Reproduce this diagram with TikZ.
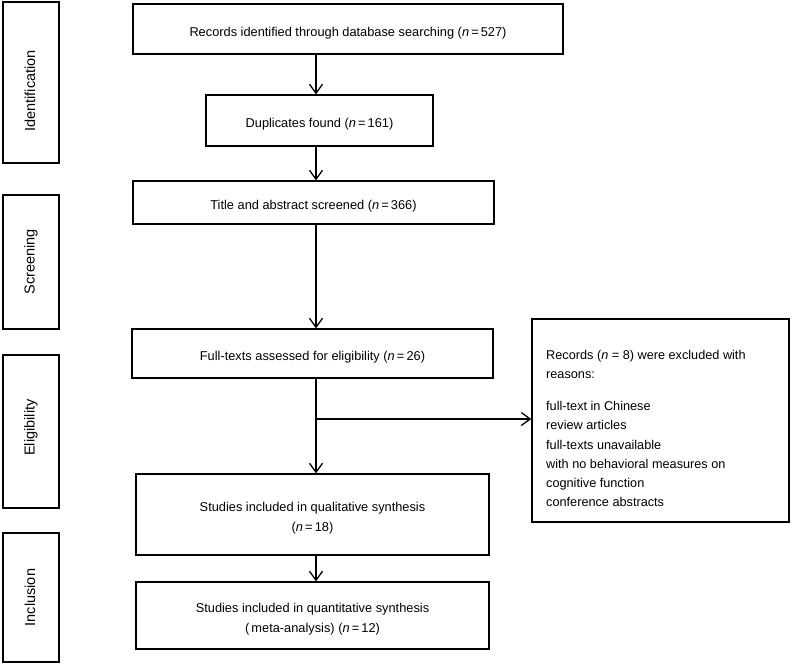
\documentclass[tikz,border=0pt]{standalone}
\usepackage{fontspec}
\setmainfont{Liberation Sans}
\usetikzlibrary{arrows.meta}
\newcommand{\lowr}[1]{\raisebox{-4pt}[\height][\depth]{#1}}
\begin{document}
\begin{tikzpicture}[x=1pt,y=-1pt,
  box/.style={draw, line width=1.3pt, rectangle, inner sep=0pt, align=center, font=\fontsize{12.8}{20}\selectfont},
  stage/.style={draw, line width=1.3pt, rectangle, inner sep=0pt, rotate=90, minimum height=56pt, font=\fontsize{14.5}{17}\selectfont},
  arr/.style={line width=1.3pt, -{Straight Barb[length=9pt,width=13pt]}},
  listtext/.style={anchor=west, align=left, inner sep=0pt, font=\fontsize{12.7}{19.3}\selectfont}]
\useasboundingbox (0,0) rectangle (792,665);
% stage labels
\node[stage, minimum width=161pt] (L1) at (31,82.5) {\raisebox{2.5pt}{Identification}\hspace*{17pt}};
\node[stage, minimum width=134pt] (L2) at (31,262) {\raisebox{2.5pt}{Screening}};
\node[stage, minimum width=153pt] (L3) at (31,431.5) {\raisebox{2.5pt}{Eligibility}\hspace*{-8pt}};
\node[stage, minimum width=129pt] (L4) at (31,597.5) {\raisebox{2.5pt}{Inclusion}};
% main boxes
\node[box, minimum width=430pt, minimum height=50pt] (b1) at (348,29) {\lowr{Records identified through database searching (\textit{n}\,=\,527)}};
\node[box, minimum width=227pt, minimum height=51pt] (b2) at (319.5,120.5) {\lowr{Duplicates found (\textit{n}\,=\,161)}};
\node[box, minimum width=361pt, minimum height=43pt] (b3) at (313.5,202.5) {\lowr{Title and abstract screened (\textit{n}\,=\,366)}};
\node[box, minimum width=361pt, minimum height=49pt] (b4) at (312.5,353.5) {\lowr{Full-texts assessed for eligibility (\textit{n}\,=\,26)}};
\node[box, minimum width=353pt, minimum height=81pt] (b5) at (312.5,514.5) {\lowr{Studies included in qualitative synthesis}\\\lowr{(\textit{n}\,=\,18)}};
\node[box, minimum width=353pt, minimum height=67pt] (b6) at (312.5,615.5) {\lowr{Studies included in quantitative synthesis}\\\lowr{(\,meta-analysis) (\textit{n}\,=\,12)}};
% excluded box
\node[draw, line width=1.3pt, rectangle, inner sep=0pt, minimum width=257pt, minimum height=203pt] (R) at (660.5,420.5) {};
\node[listtext] (Rt) at (546,428.5) {Records (\textit{n} = 8) were excluded with\\reasons:\\[12.7pt]full-text in Chinese\\review articles\\full-texts unavailable\\with no behavioral measures on\\cognitive function\\conference abstracts};
% connectors
\coordinate (ax) at (316,0);
\coordinate (br) at (316,419);
\draw[arr] (b1.south -| ax) -- (b2.north -| ax);
\draw[arr] (b2.south -| ax) -- (b3.north -| ax);
\draw[arr] (b3.south -| ax) -- (b4.north -| ax);
\draw[arr] (b4.south -| ax) -- (b5.north -| ax);
\draw[arr] (b5.south -| ax) -- (b6.north -| ax);
\draw[arr] (br) -- (br -| R.west);
\end{tikzpicture}
\end{document}
